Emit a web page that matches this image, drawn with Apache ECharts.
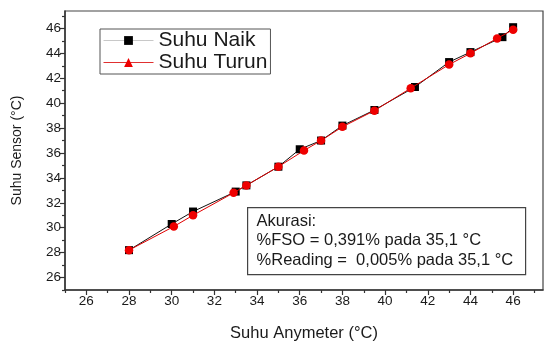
<!DOCTYPE html>
<html>
<head>
<meta charset="utf-8">
<script src="https://cdn.jsdelivr.net/npm/echarts@6/dist/echarts.min.js"></script>
<style>
  html, body { margin: 0; padding: 0; background: #fff; }
  #chart { width: 547px; height: 347px; }
</style>
</head>
<body>
<div id="chart"></div>
<script>
// Rising-temperature run (Suhu Naik)
const naikX = [28, 30, 31, 33, 33.5, 35, 36, 37, 38, 39.5, 41.4, 43, 44, 45.5, 46];
const naikY = [28.2, 30.3, 31.3, 32.9, 33.4, 34.9, 36.3, 37.0, 38.2, 39.45, 41.3, 43.3, 44.1, 45.3, 46.1];
// Falling-temperature run (Suhu Turun)
const turunX = [28, 30.1, 31, 32.9, 33.5, 35, 36.2, 37, 38, 39.5, 41.2, 43, 44, 45.25, 46];
const turunY = [28.2, 30.1, 31.0, 32.8, 33.4, 34.9, 36.2, 37.0, 38.1, 39.4, 41.2, 43.1, 44.0, 45.2, 45.9];
// Axis ticks
const majorTicks = [26, 28, 30, 32, 34, 36, 38, 40, 42, 44, 46];
const minorTicks = [25, 27, 29, 31, 33, 35, 37, 39, 41, 43, 45, 47];
const axisMin = 25, axisMax = 47.4;

const FONT = '"Liberation Sans", Arial, sans-serif';
const INK = '#1a1a1a';

function pairs(xs, ys) { return xs.map((x, i) => [x, ys[i]]); }

function majorAxis(pos, extra) {
  return Object.assign({
    type: 'value', position: pos, min: axisMin, max: axisMax,
    axisLine: { show: true, onZero: false, lineStyle: { color: '#333', width: 1.5 } },
    axisTick: { show: true, inside: false, length: 5, customValues: majorTicks, lineStyle: { color: '#333', width: 1.2 } },
    axisLabel: { show: true, customValues: majorTicks, color: INK, fontFamily: FONT, fontSize: 13.5, margin: 4 },
    splitLine: { show: false }
  }, extra);
}
function minorAxis(pos) {
  return {
    type: 'value', position: pos, min: axisMin, max: axisMax,
    axisLine: { show: false, onZero: false },
    axisTick: { show: true, inside: false, length: 3, customValues: minorTicks, lineStyle: { color: '#333', width: 1.2 } },
    axisLabel: { show: false },
    splitLine: { show: false }
  };
}

const chart = echarts.init(document.getElementById('chart'), null, { renderer: 'canvas' });
chart.setOption({
  backgroundColor: '#fff',
  animation: false,
  grid: { left: 65, right: 4, top: 11, bottom: 48, show: true, borderColor: '#444', borderWidth: 1.2, backgroundColor: 'transparent' },
  xAxis: [
    majorAxis('bottom', { name: 'Suhu Anymeter (°C)', nameLocation: 'middle', nameGap: 35,
      nameTextStyle: { color: INK, fontFamily: FONT, fontSize: 16.5 } }),
    minorAxis('bottom')
  ],
  yAxis: [
    majorAxis('left', { name: 'Suhu Sensor (°C)', nameLocation: 'middle', nameGap: 41,
      nameTextStyle: { color: INK, fontFamily: FONT, fontSize: 14 } }),
    minorAxis('left')
  ],
  legend: {
    left: 100, top: 29, orient: 'vertical',
    backgroundColor: '#fff', borderColor: '#555', borderWidth: 1, borderRadius: 0,
    padding: [1, 3, 1, 3], itemGap: 1, itemWidth: 50, itemHeight: 11,
    textStyle: { color: INK, fontFamily: FONT, fontSize: 21 },
    data: [
      { name: 'Suhu Naik', lineStyle: { color: '#c8c8c8', width: 1 } },
      { name: 'Suhu Turun', lineStyle: { color: '#e03030', width: 1 } }
    ]
  },
  series: [
    {
      name: 'Suhu Naik', type: 'line', xAxisIndex: 0, yAxisIndex: 0,
      symbol: 'rect', symbolSize: 8,
      lineStyle: { color: '#111', width: 1 },
      itemStyle: { color: '#000' },
      data: pairs(naikX, naikY), z: 3
    },
    {
      name: 'Suhu Turun', type: 'line', xAxisIndex: 0, yAxisIndex: 0,
      symbol: 'triangle', symbolSize: 9,
      lineStyle: { color: '#e00000', width: 1 },
      itemStyle: { color: '#ee0000' },
      data: pairs(turunX, turunY).map(p => ({ value: p, symbol: 'circle', symbolSize: 8.5 })), z: 4
    }
  ],
  graphic: [
    {
      type: 'group', left: 247, top: 207,
      children: [
        { type: 'rect', shape: { x: 0, y: 0, width: 278, height: 67 },
          style: { fill: '#fff', stroke: '#444', lineWidth: 1.2 } },
        { type: 'text', x: 9, y: 4,
          style: { text: 'Akurasi:\n%FSO = 0,391% pada 35,1 °C\n%Reading =  0,005% pada 35,1 °C',
            fill: INK, font: '16.5px "Liberation Sans", Arial, sans-serif', lineHeight: 19.5 } }
      ]
    }
  ]
});
</script>
</body>
</html>
